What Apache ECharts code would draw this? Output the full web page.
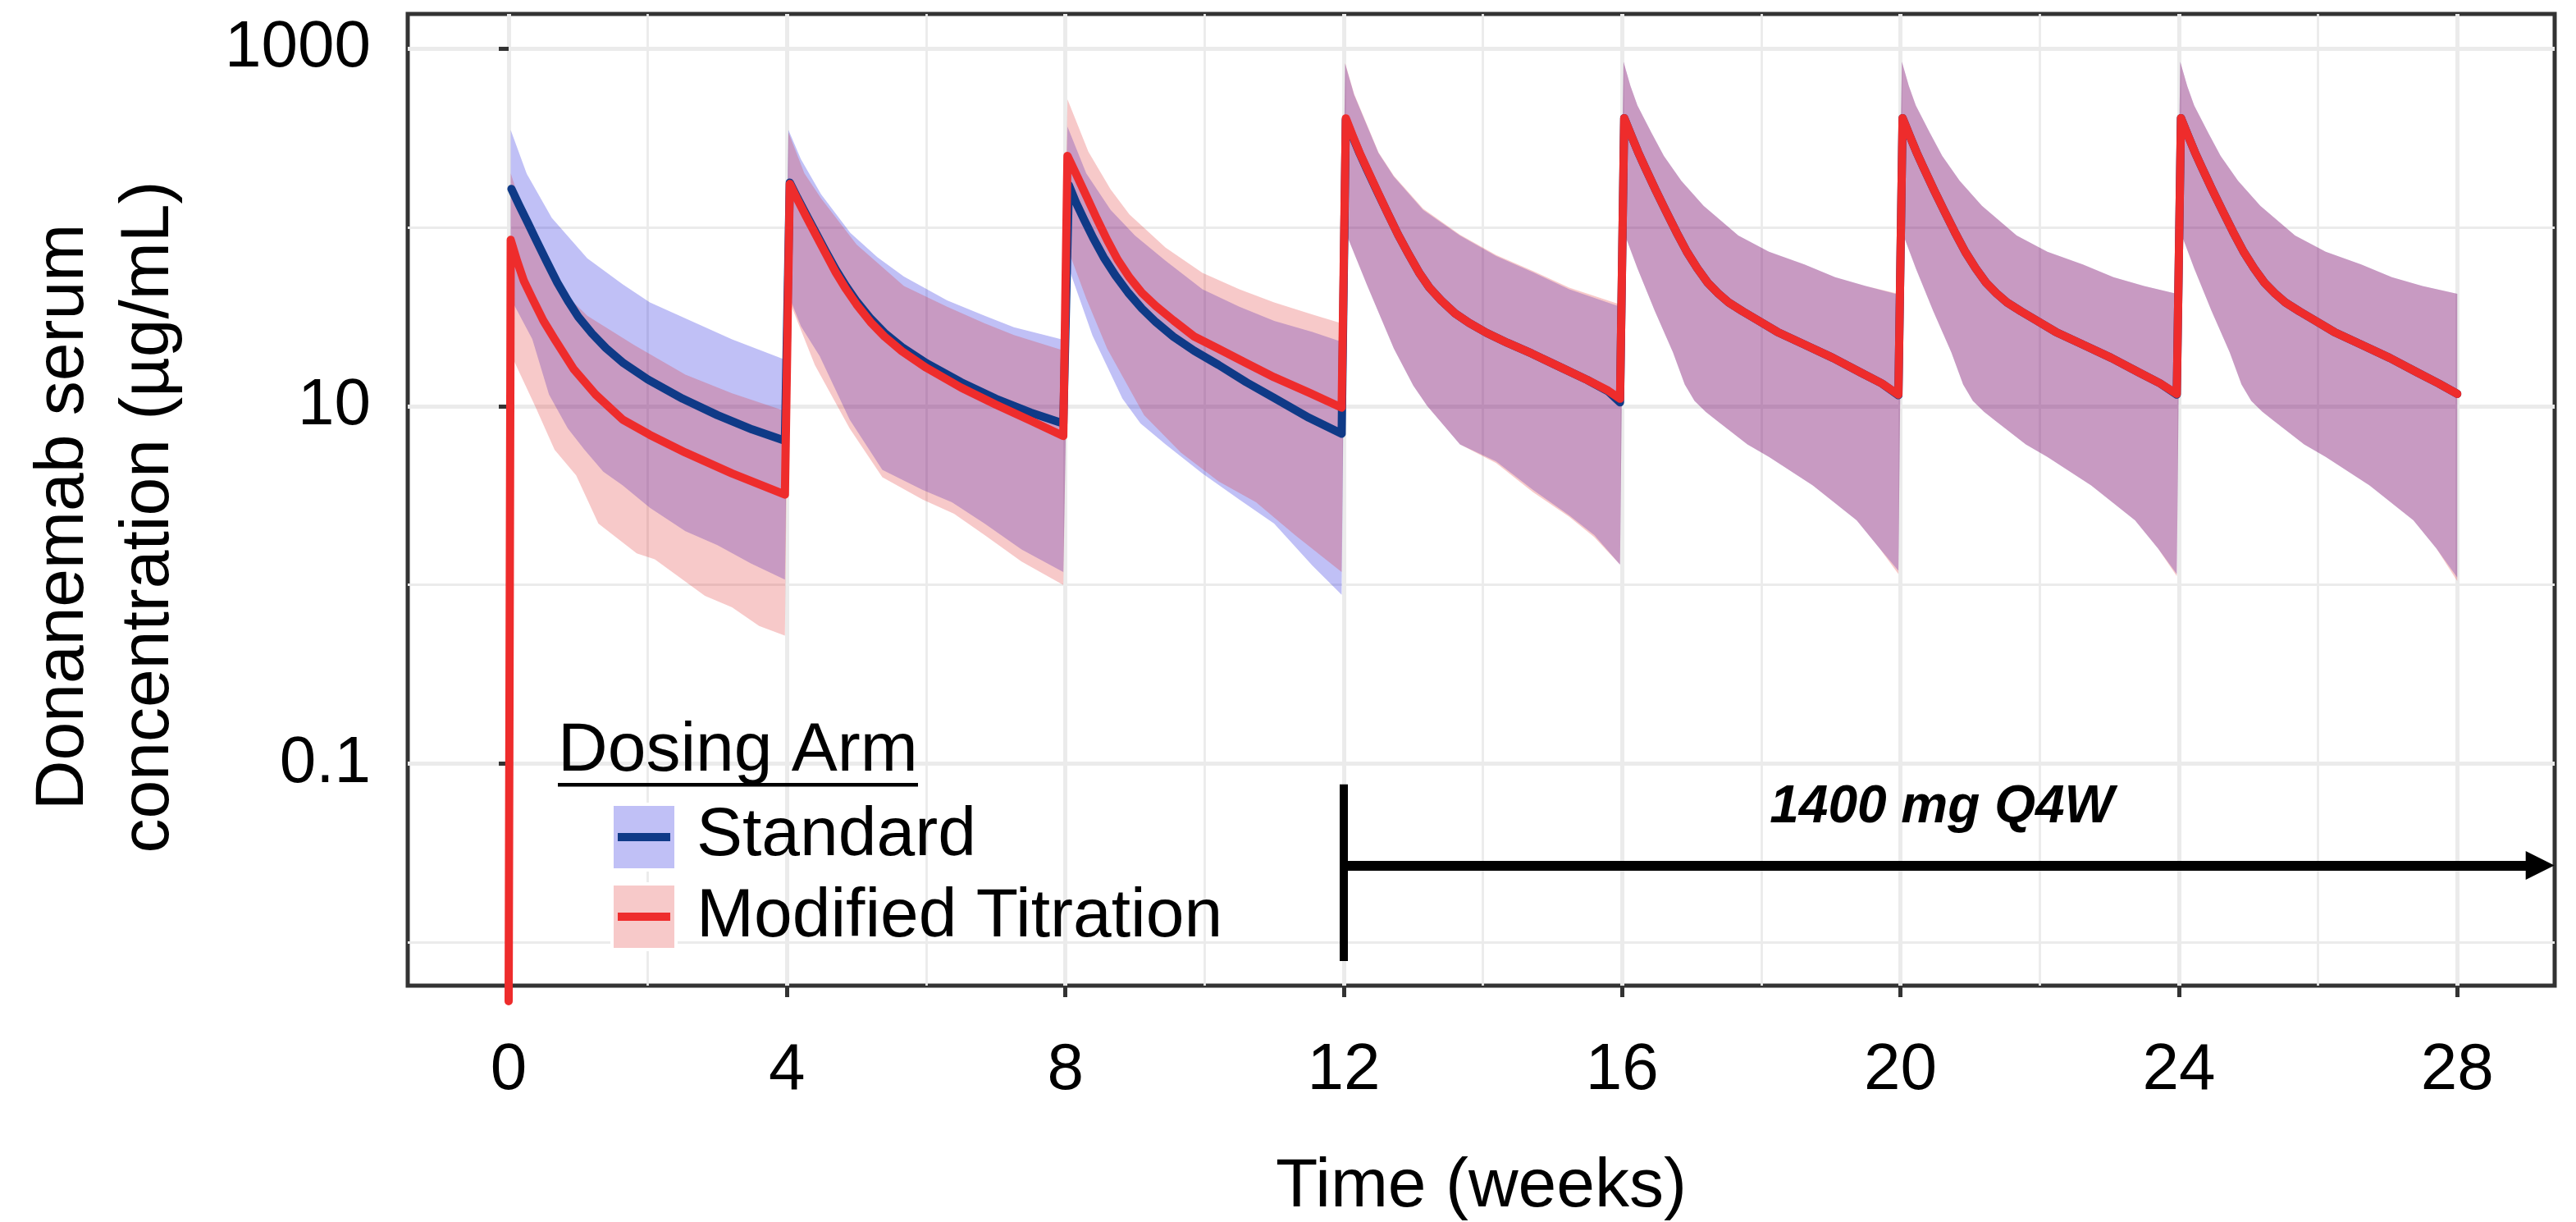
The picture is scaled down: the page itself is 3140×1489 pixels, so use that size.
<!DOCTYPE html>
<html>
<head>
<meta charset="utf-8">
<script src="https://cdn.jsdelivr.net/npm/echarts@6/dist/echarts.min.js"></script>
<style>
  html, body { margin: 0; padding: 0; background: #fff; }
  #main { width: 3140px; height: 1489px; }
</style>
</head>
<body>
<div id="main"></div>
<script>
// axis ticks
var xTicks = [0, 4, 8, 12, 16, 20, 24, 28];
var xMinor = [2, 6, 10, 14, 18, 22, 26];
var yTicks = [0.1, 10, 1000];
var yMinor = [0.01, 1, 100];

// Standard arm: median and 90% band  [week, ug/mL]
var stdMedian = [
  [0.04,164],[0.15,133],[0.27,107],[0.4,84],[0.55,64],[0.7,49],[0.85,38.9],[1.0,31.6],[1.2,25.4],[1.4,21.1],[1.65,17.4],[2.0,14.1],[2.5,11],[3.0,8.9],[3.5,7.4],[3.97,6.4],
  [4.04,178],[4.15,146],[4.27,119],[4.4,95.5],[4.55,74],[4.7,58],[4.85,46.8],[5.0,38.5],[5.2,30.9],[5.4,25.7],[5.65,21.4],[6.0,17.4],[6.5,13.6],[7.0,11],[7.5,9.2],[7.97,8.0],
  [8.05,172],[8.15,138],[8.27,110],[8.4,87],[8.55,68],[8.72,53.7],[8.9,43.2],[9.1,35.1],[9.3,29.5],[9.55,24.5],[9.85,20.4],[10.2,17],[10.6,13.6],[11.0,11.1],[11.5,8.6],[11.97,7.0],
  [12.03,400],[12.13,320],[12.23,258],[12.33,212],[12.48,159],[12.63,120],[12.78,91],[12.93,71],[13.08,56],[13.23,46],[13.4,39],[13.6,33],[13.8,29.2],[14.05,25.7],[14.35,22.6],[14.7,19.7],[15.1,16.6],[15.5,14],[15.8,12.1],[15.97,10.5],
  [16.03,408],[16.13,327],[16.23,263],[16.33,216],[16.48,162],[16.63,123],[16.78,94],[16.93,73],[17.08,59],[17.23,49],[17.38,42.7],[17.53,38],[17.73,33.9],[17.93,30.5],[18.23,26],[18.63,22],[19.03,18.6],[19.43,15.4],[19.73,13.4],[19.97,11.5],
  [20.03,408],[20.13,327],[20.23,263],[20.33,216],[20.48,162],[20.63,123],[20.78,94],[20.93,73],[21.08,59],[21.23,49],[21.38,42.7],[21.53,38],[21.73,33.9],[21.93,30.5],[22.23,26],[22.63,22],[23.03,18.6],[23.43,15.4],[23.73,13.4],[23.97,11.6],
  [24.03,408],[24.13,327],[24.23,263],[24.33,216],[24.48,162],[24.63,123],[24.78,94],[24.93,73],[25.08,59],[25.23,49],[25.38,42.7],[25.53,38],[25.73,33.9],[25.93,30.5],[26.23,26],[26.63,22],[27.03,18.6],[27.43,15.4],[27.73,13.4],[28.0,11.7]
];
var stdUpper = [
  [0.03,350],[0.26,199],[0.62,113],[1.13,67],[1.64,48],[2.03,38],[2.62,30],[3.21,23.6],[3.97,18.2],
  [4.02,351],[4.2,240],[4.49,153],[4.91,93],[5.3,68],[5.68,53],[6.3,39],[6.84,32],[7.26,27.6],[7.97,23.5],
  [8.03,366],[8.3,200],[8.65,125],[9.0,90],[9.44,65],[9.97,45],[10.5,36],[11.0,30],[11.55,26],[11.97,22.9],
  [12.02,822],[12.15,550],[12.34,366],[12.5,260],[12.72,192],[13.14,125],[13.67,90],[14.19,69],[14.72,56],[15.24,45],[15.97,36],
  [16.02,843],[16.12,617],[16.22,480],[16.42,339],[16.6,251],[16.85,182],[17.17,132],[17.67,90],[18.11,73],[18.62,62],[19.06,52.6],[19.5,47],[19.97,42],
  [20.02,843],[20.12,617],[20.22,480],[20.42,339],[20.6,251],[20.85,182],[21.17,132],[21.67,90],[22.11,73],[22.62,62],[23.06,52.6],[23.5,47],[23.97,42.5],
  [24.02,843],[24.12,617],[24.22,480],[24.42,339],[24.6,251],[24.85,182],[25.17,132],[25.67,90],[26.11,73],[26.62,62],[27.06,52.6],[27.5,47],[28.0,42.5]
];
var stdLower = [
  [0.03,40],[0.34,23.7],[0.58,11.6],[0.85,7.5],[1.09,5.7],[1.36,4.3],[1.64,3.6],[2.03,2.7],[2.54,2.0],[3.0,1.67],[3.48,1.32],[3.97,1.07],
  [4.02,42],[4.2,28],[4.47,19],[4.9,8.4],[5.37,4.4],[5.95,3.4],[6.37,2.9],[6.84,2.2],[7.37,1.58],[7.97,1.18],
  [8.05,59],[8.39,24.8],[8.82,11],[9.08,8],[9.44,6.1],[9.97,4.2],[10.5,3.0],[11.0,2.2],[11.55,1.28],[11.97,0.88],
  [12.02,95],[12.34,47],[12.72,21],[13.0,13],[13.2,10],[13.67,6.1],[14.19,4.9],[14.72,3.4],[15.24,2.45],[15.6,1.9],[15.97,1.3],
  [16.02,95],[16.22,59],[16.47,34],[16.73,20],[16.9,13.2],[17.04,10.7],[17.2,9.3],[17.36,8.3],[17.8,6.1],[18.11,5.2],[18.74,3.6],[19.37,2.3],[19.7,1.6],[19.97,1.2],
  [20.02,95],[20.22,59],[20.47,34],[20.73,20],[20.9,13.2],[21.04,10.7],[21.2,9.3],[21.36,8.3],[21.8,6.1],[22.11,5.2],[22.74,3.6],[23.37,2.3],[23.7,1.6],[23.97,1.15],
  [24.02,95],[24.22,59],[24.47,34],[24.73,20],[24.9,13.2],[25.04,10.7],[25.2,9.3],[25.36,8.3],[25.8,6.1],[26.11,5.2],[26.74,3.6],[27.37,2.3],[27.7,1.6],[28.0,1.1]
];

// Modified titration arm
var modMedian = [
  [0.0,0.0047],[0.03,85],[0.12,65],[0.22,50],[0.34,40],[0.5,30],[0.66,23.7],[0.93,16.2],[1.25,11.6],[1.64,8.4],[2.03,6.9],[2.54,5.5],[3.21,4.2],[3.97,3.2],
  [4.04,175],[4.15,143],[4.27,116],[4.4,93],[4.55,72],[4.7,56],[4.85,45],[5.0,37],[5.2,29.5],[5.4,24.5],[5.65,20.3],[6.0,16.4],[6.5,12.7],[7.0,10.2],[7.5,8.3],[7.97,6.8],
  [8.03,251],[8.15,200],[8.3,150],[8.45,112],[8.6,85],[8.75,66],[8.92,52.5],[9.1,43],[9.3,36.3],[9.55,30.2],[9.85,24.5],[10.2,20.9],[10.6,17.4],[11.0,14.5],[11.5,11.9],[11.97,9.8],
  [12.03,407],[12.13,324],[12.23,260],[12.33,214],[12.48,160],[12.63,120],[12.78,91],[12.93,71],[13.08,56],[13.23,46],[13.4,39],[13.6,33],[13.8,29.2],[14.05,25.7],[14.35,22.6],[14.7,19.7],[15.1,16.6],[15.5,14],[15.8,12.2],[15.97,11.0],
  [16.03,408],[16.13,327],[16.23,263],[16.33,216],[16.48,162],[16.63,123],[16.78,94],[16.93,73],[17.08,59],[17.23,49],[17.38,42.7],[17.53,38],[17.73,33.9],[17.93,30.5],[18.23,26],[18.63,22],[19.03,18.6],[19.43,15.4],[19.73,13.4],[19.97,11.6],
  [20.03,408],[20.13,327],[20.23,263],[20.33,216],[20.48,162],[20.63,123],[20.78,94],[20.93,73],[21.08,59],[21.23,49],[21.38,42.7],[21.53,38],[21.73,33.9],[21.93,30.5],[22.23,26],[22.63,22],[23.03,18.6],[23.43,15.4],[23.73,13.4],[23.97,11.7],
  [24.03,408],[24.13,327],[24.23,263],[24.33,216],[24.48,162],[24.63,123],[24.78,94],[24.93,73],[25.08,59],[25.23,49],[25.38,42.7],[25.53,38],[25.73,33.9],[25.93,30.5],[26.23,26],[26.63,22],[27.03,18.6],[27.43,15.4],[27.73,13.4],[28.0,11.7]
];
var modUpper = [
  [0.03,200],[0.3,95],[0.77,44],[1.13,32],[1.8,22],[2.54,15],[3.21,11.8],[3.97,9.4],
  [4.02,340],[4.25,200],[4.49,145],[5.0,80],[5.68,47],[6.3,36],[6.84,29],[7.26,25],[7.97,20.5],
  [8.03,520],[8.33,265],[8.65,163],[8.92,118],[9.44,77],[9.97,55.6],[10.5,45],[11.0,38],[11.55,32.5],[11.97,29],
  [12.02,830],[12.15,555],[12.34,370],[12.5,262],[12.72,194],[13.14,127],[13.67,91],[14.19,70],[14.72,57],[15.24,46],[15.97,37],
  [16.02,843],[16.12,617],[16.22,480],[16.42,339],[16.6,251],[16.85,182],[17.17,132],[17.67,90],[18.11,73],[18.62,62],[19.06,52.6],[19.5,47],[19.97,42.5],
  [20.02,843],[20.12,617],[20.22,480],[20.42,339],[20.6,251],[20.85,182],[21.17,132],[21.67,90],[22.11,73],[22.62,62],[23.06,52.6],[23.5,47],[23.97,42.5],
  [24.02,843],[24.12,617],[24.22,480],[24.42,339],[24.6,251],[24.85,182],[25.17,132],[25.67,90],[26.11,73],[26.62,62],[27.06,52.6],[27.5,47],[28.0,42.5]
];
var modLower = [
  [0.03,19.6],[0.38,10],[0.66,5.7],[0.97,4.1],[1.29,2.2],[1.84,1.5],[2.1,1.39],[2.82,0.87],[3.21,0.75],[3.6,0.59],[3.97,0.52],
  [4.02,40],[4.4,17],[4.9,7.5],[5.37,4.0],[5.95,3.0],[6.4,2.5],[6.84,1.9],[7.37,1.35],[7.97,1.0],
  [8.05,73],[8.3,40],[8.6,21],[9.13,8.9],[9.66,5.5],[10.2,3.8],[10.74,2.9],[11.3,1.9],[11.97,1.18],
  [12.02,95],[12.34,47],[12.72,21],[13.0,13],[13.2,10],[13.67,6.1],[14.19,4.8],[14.72,3.3],[15.24,2.4],[15.6,1.85],[15.97,1.3],
  [16.02,95],[16.22,59],[16.47,34],[16.73,20],[16.9,13.2],[17.04,10.7],[17.2,9.3],[17.36,8.3],[17.8,6.1],[18.11,5.2],[18.74,3.6],[19.37,2.3],[19.7,1.6],[19.97,1.15],
  [20.02,95],[20.22,59],[20.47,34],[20.73,20],[20.9,13.2],[21.04,10.7],[21.2,9.3],[21.36,8.3],[21.8,6.1],[22.11,5.2],[22.74,3.6],[23.37,2.3],[23.7,1.6],[23.97,1.12],
  [24.02,95],[24.22,59],[24.47,34],[24.73,20],[24.9,13.2],[25.04,10.7],[25.2,9.3],[25.36,8.3],[25.8,6.1],[26.11,5.2],[26.74,3.6],[27.37,2.3],[27.7,1.6],[28.0,1.05]
];

// annotation: 1400 mg Q4W from week 12
var doseStart = 12;
var doseLabel = '1400 mg Q4W';

var FONT = '"Liberation Sans", Arial, Helvetica, sans-serif';
var navy = '#0f3a87';
var red = '#ee2c2c';
var stdFill = 'rgba(3,3,219,0.25)';
var modFill = 'rgba(223,39,39,0.25)';
var gridCol = '#ebebeb';

var chart = echarts.init(document.getElementById('main'), null, { renderer: 'canvas' });

// polygon band drawn once, from upper edge then back along lower edge
function bandSeries(name, upper, lower, fill) {
  return {
    type: 'custom',
    name: name,
    silent: true,
    z: 2,
    data: upper,
    renderItem: function (params, api) {
      if (params.dataIndex !== 0) return null;
      var pts = upper.concat(lower.slice().reverse()).map(function (p) {
        return api.coord(p);
      });
      return { type: 'polygon', shape: { points: pts }, style: { fill: fill } };
    }
  };
}

var option = {
  animation: false,
  backgroundColor: '#fff',
  grid: {
    left: 497, top: 17, right: 26, bottom: 288,
    show: true, borderColor: '#333', borderWidth: 5, backgroundColor: 'transparent',
    outerBoundsMode: 'none'
  },
  xAxis: [{
    type: 'value', min: -1.45, max: 29.4,
    name: 'Time (weeks)', nameLocation: 'middle', nameGap: 204,
    nameTextStyle: { fontSize: 84, color: '#000', fontFamily: FONT },
    axisLine: { show: false },
    axisTick: { show: true, customValues: xTicks, length: 14, lineStyle: { color: '#333', width: 5 } },
    axisLabel: { customValues: xTicks, margin: 64, fontSize: 80, color: '#000', fontFamily: FONT },
    splitLine: { show: true, lineStyle: { color: gridCol, width: 5 } }
  }, {
    type: 'value', min: -1.45, max: 29.4, position: 'top',
    axisLine: { show: false },
    axisTick: { show: false, customValues: xMinor },
    axisLabel: { show: false },
    splitLine: { show: true, lineStyle: { color: gridCol, width: 2.8 } }
  }],
  yAxis: [{
    type: 'log', logBase: 10, min: 0.00574, max: 1560,
    axisLine: { show: false },
    axisTick: { show: true, customValues: yTicks, length: 12, lineStyle: { color: '#333', width: 5 } },
    axisLabel: {
      customValues: yTicks, margin: 45, fontSize: 80, color: '#000', fontFamily: FONT,
      formatter: function (v) { return String(+(+v).toPrecision(6)); }
    },
    splitLine: { show: true, lineStyle: { color: gridCol, width: 5 } }
  }, {
    type: 'log', logBase: 10, min: 0.00574, max: 1560, position: 'right',
    axisLine: { show: false },
    axisTick: { show: false, customValues: yMinor },
    axisLabel: { show: false },
    splitLine: { show: true, lineStyle: { color: gridCol, width: 2.8 } }
  }],
  series: [
    bandSeries('Standard band', stdUpper, stdLower, stdFill),
    bandSeries('Modified Titration band', modUpper, modLower, modFill),
    {
      type: 'line', name: 'Standard', data: stdMedian, symbol: 'none', z: 3,
      lineStyle: { color: navy, width: 10, cap: 'round', join: 'round' }
    },
    {
      type: 'line', name: 'Modified Titration', data: modMedian, symbol: 'none', z: 4, clip: false,
      lineStyle: { color: red, width: 10, cap: 'round', join: 'round' }
    },
    {
      type: 'line', name: 'annotation', data: [], z: 5,
      markLine: {
        silent: true, animation: false,
        symbol: ['none', 'triangle'], symbolSize: 35,
        lineStyle: { color: '#000', width: 12, type: 'solid' },
        label: {
          show: true, position: 'middle', formatter: doseLabel, distance: 38,
          fontSize: 64, fontWeight: 'bold', fontStyle: 'italic', color: '#000', fontFamily: FONT
        },
        emphasis: { disabled: true },
        data: [
          [{ coord: [doseStart, 0.027] }, { coord: [29.19, 0.027] }],
          [{ coord: [doseStart, 0.0767], symbol: 'none', label: { show: false }, lineStyle: { width: 10 } },
           { coord: [doseStart, 0.00788], symbol: 'none' }]
        ]
      }
    }
  ],
  graphic: [
    {
      type: 'text', x: 130, y: 630, rotation: Math.PI / 2, z: 100,
      style: {
        text: 'Donanemab serum\nconcentration (µg/mL)', font: '84px ' + FONT,
        align: 'center', verticalAlign: 'middle', lineHeight: 104, fill: '#000'
      }
    },
    { type: 'text', x: 680, y: 916, z: 100,
      style: { text: 'Dosing Arm', font: '84px ' + FONT, verticalAlign: 'middle', fill: '#000' } },
    { type: 'rect', z: 100, shape: { x: 680, y: 954, width: 439, height: 4.5 }, style: { fill: '#000' } },
    { type: 'rect', z: 100, shape: { x: 744, y: 978, width: 82, height: 84 }, style: { fill: '#fff' } },
    { type: 'rect', z: 101, shape: { x: 748, y: 982, width: 74, height: 76 }, style: { fill: stdFill } },
    { type: 'rect', z: 102, shape: { x: 753, y: 1015, width: 64, height: 10 }, style: { fill: navy } },
    { type: 'rect', z: 100, shape: { x: 744, y: 1075, width: 82, height: 84 }, style: { fill: '#fff' } },
    { type: 'rect', z: 101, shape: { x: 748, y: 1079, width: 74, height: 76 }, style: { fill: modFill } },
    { type: 'rect', z: 102, shape: { x: 753, y: 1112, width: 64, height: 10 }, style: { fill: red } },
    { type: 'text', x: 849, y: 1019, z: 100,
      style: { text: 'Standard', font: '84px ' + FONT, verticalAlign: 'middle', fill: '#000' } },
    { type: 'text', x: 849, y: 1118, z: 100,
      style: { text: 'Modified Titration', font: '84px ' + FONT, verticalAlign: 'middle', fill: '#000' } }
  ]
};

chart.setOption(option);
</script>
</body>
</html>
